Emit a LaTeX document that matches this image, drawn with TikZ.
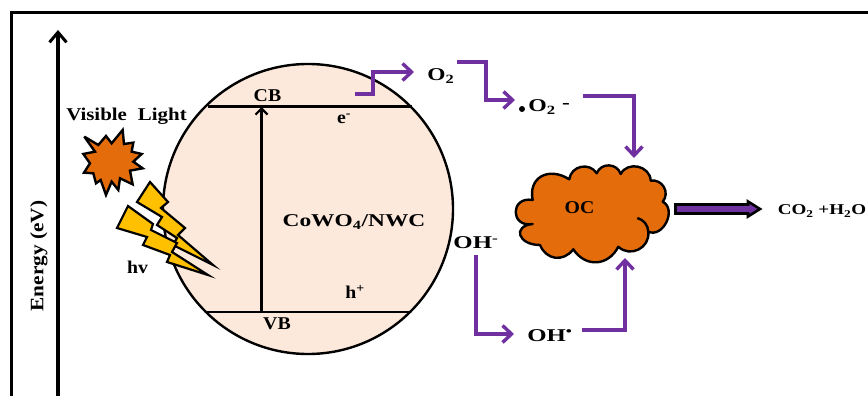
\documentclass[tikz,border=0pt]{standalone}
\usepackage{fontspec}
\setmainfont{Liberation Serif}
\usetikzlibrary{arrows.meta,shapes.geometric}
\definecolor{peach}{RGB}{252,233,220}
\definecolor{cloudor}{RGB}{228,108,10}
\definecolor{boltyel}{RGB}{255,192,0}
\definecolor{purp}{RGB}{112,48,160}
\tikzset{
 lab/.style={font=\fontsize{18}{18}\selectfont\bfseries,inner sep=0pt,text=black,xscale=#1},
 lab/.default=1.1,
 band/.style={draw=black,line width=2.4pt},
 bk/.style={draw=black,line width=3.4pt,-{Straight Barb[length=10pt,width=17pt,line width=3pt]}},
 pa/.style={draw=purp,line width=3.4pt,-{Straight Barb[length=9pt,width=17pt,line width=3.4pt]}},
 bolt/.style={draw=black,fill=boltyel,line width=2.2pt,line join=miter},
 bump/.style={bend left=#1,looseness=1.25}
}
\begin{document}
\begin{tikzpicture}[x=1pt,y=-1pt]
\useasboundingbox (0,0) rectangle (868,396);
\fill[white] (0,0) rectangle (868,396);
% frame
\draw[black,line width=3.4pt] (868,12.5) -- (11.5,12.5) -- (11.5,396);
% axis
\coordinate (axb) at (58,396);
\coordinate (axt) at (58,30);
\draw[bk] (axb) -- (axt);
\node[rotate=90,lab=1.12,font=\fontsize{19}{19}\selectfont\bfseries] (en) at (39,256) {Energy (eV)};
% semiconductor
\node[circle,draw=black,line width=2.4pt,fill=peach,minimum size=290pt,inner sep=0pt] (sc) at (308,209) {};
\coordinate (cbl) at (208,106.5); \coordinate (cbr) at (412,106.5);
\coordinate (vbl) at (207,312); \coordinate (vbr) at (411,312);
\draw[band] (cbl) -- (cbr);
\draw[band] (vbl) -- (vbr);
\coordinate (ub) at (261.5,312); \coordinate (ut) at (261.5,107);
\draw[draw=black,line width=2.4pt,-{Straight Barb[length=6pt,width=12pt,line width=2.2pt]}] (ub) -- (ut);
\node[lab=1.1] (cb) at (267.5,96) {CB};
\node[lab=1.1] (vb) at (277,324) {VB};
\node[lab=1.1] (el) at (344,119) {e\textsuperscript{-}};
\node[lab=1.1] (hp) at (355,292) {h\textsuperscript{+}};
\node[lab=1.3] (mat) at (354,222) {CoWO\textsubscript{4}/NWC};
% star
\draw[draw=black,fill=cloudor,line width=2.4pt,line join=miter,miter limit=4,x=0.3333pt,y=-0.3333pt]
 (253,410) -- (295,435) -- (318,408) -- (335,430) -- (368,390) -- (372,432) -- (400,428) -- (395,455) -- (425,462) -- (400,485) -- (428,505) -- (390,512) -- (398,553) -- (360,535) -- (355,570) -- (335,545) -- (318,585) -- (302,540) -- (288,550) -- (280,520) -- (252,518) -- (270,490) -- (250,462) -- (285,455) -- cycle;
\node[lab=1.16] (vis) at (126.5,116) {Visible\hspace{5pt} Light};
% bolts
\draw[bolt] (150,182) -- (168,202) -- (161,208) -- (185,228) -- (178,235) -- (213,265) -- (173,245) -- (177,238) -- (157,225) -- (162,217) -- (137,202) -- cycle;
\draw[bolt] (128,206) -- (153,224) -- (151,230) -- (177,243) -- (172,252) -- (208,275) -- (167,262) -- (170,255) -- (143,245) -- (147,237) -- (117,228) -- cycle;
\node[lab=1.1] (hv) at (137.5,267) {hv};
% cloud
\node[inner sep=0pt] (oc) at (590,210) {};
\path[draw=black,fill=cloudor,line width=2.4pt,line join=round]
 (532.7,200) .. controls (528,178) and (548,166) .. (569.3,179.3) to[bump=70] (596.7,173.3) to[bump=70] (620.7,174)
 to[bump=75] (650.7,180.7) to[bump=70] (662.7,201.7) to[bump=88] (648.3,231.7)
 to[bump=70] (618.3,246.7) to[bump=60] (573.3,249.3) to[bump=60] (540,245)
 .. controls (518,245) and (512,226) .. (532.7,224) .. controls (510,228) and (510,196) .. cycle;
\draw[black,line width=2.4pt] (637.3,218) to[bend left=35] (648.3,231.7);
\node[lab=1.1] (octxt) at (579.5,208) {OC};
% species
\node[lab=1.3] (o2) at (441,76) {O\textsubscript{2}};
\node[lab=1.32,anchor=west] (o2r) at (528,107) {O\textsubscript{2}};
\node[lab=1.3] (minus) at (566,106) {-};
\node[circle,fill=black,minimum size=6pt,inner sep=0pt] (rad) at (522,109) {};
\node[lab=1.38] (oh) at (476,243) {OH\textsuperscript{-}};
\node[lab=1.38] (ohr) at (550,336) {OH\textsuperscript{•}};
\node[lab=1.27,font=\fontsize{15}{15}\selectfont\bfseries] (prod) at (822,211) {CO\textsubscript{2} +H\textsubscript{2}O};
% purple connectors
\coordinate (s1) at (355,94); \coordinate (e1) at (414,72);
\coordinate (s2) at (457,62); \coordinate (e2) at (515,100);
\coordinate (s3) at (583,96); \coordinate (e3) at (634,158);
\coordinate (s4) at (476,255); \coordinate (e4) at (514,334);
\coordinate (s5) at (582,330); \coordinate (e5) at (625,258);
\draw[pa] (s1) -- (373,94) -- (373,72) -- (e1);
\draw[pa] (s2) -- (486,62) -- (486,100) -- (e2);
\draw[pa] (s3) -| (e3);
\draw[pa] (s4) |- (e4);
\draw[pa] (s5) -| (e5);
% block arrow
\draw[draw=black,fill=purp,line width=2.6pt,line join=miter]
 (675.5,204.5) -- (748,204.5) -- (748,201.5) -- (760,209) -- (748,216.5) -- (748,213.5) -- (675.5,213.5) -- cycle;
\end{tikzpicture}
\end{document}
